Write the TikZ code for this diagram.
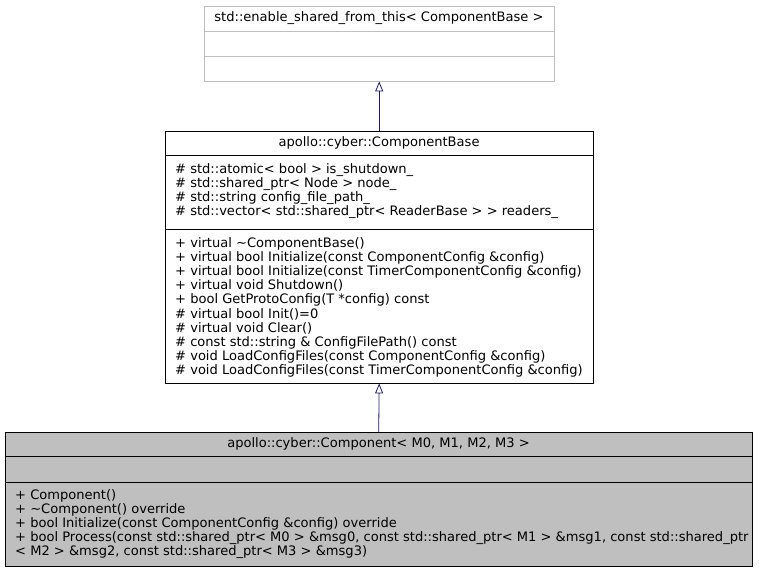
\documentclass[tikz,border=0pt]{standalone}
\usepackage{fontspec}
\setmainfont{DejaVu Sans}
\usetikzlibrary{arrows.meta}
\definecolor{edgeblue}{HTML}{191970}
\definecolor{boxgray}{HTML}{BFBFBF}
\tikzstyle{classbox} = [rectangle, draw=black, anchor=north west, inner sep=0pt]
\tikzstyle{classname} = [inner sep=0pt, font=\fontsize{13.05}{14}\selectfont]
\tikzstyle{members} = [anchor=north west, align=left, inner sep=0pt, font=\fontsize{13.05}{14.15}\selectfont]
\tikzstyle{inherit} = [draw=edgeblue, line width=0.8pt, -{Triangle[open, length=10pt, width=8pt]}]

\begin{document}
\begin{tikzpicture}[x=1pt, y=-1pt]
    \useasboundingbox (0,0) rectangle (759,573);

    % std::enable_shared_from_this
    \node (shared) [classbox, draw=boxgray, minimum width=350pt, minimum height=75pt] at (204,6) {};
    \draw [boxgray] (204,31) -- (554,31);
    \draw [boxgray] (204,56) -- (554,56);
    \node (sharedname) [classname] at (379,18.5) {std::enable\_shared\_from\_this< ComponentBase >};

    % apollo::cyber::ComponentBase
    \node (base) [classbox, minimum width=428pt, minimum height=252pt] at (165,131) {};
    \draw (165,155) -- (593,155);
    \draw (165,229) -- (593,229);
    \node (basename) [classname] at (379,143) {apollo::cyber::ComponentBase};
    \node (baseattr) [members] at (175,163.2) {\# std::atomic< bool > is\_shutdown\_\\
        \# std::shared\_ptr< Node > node\_\\
        \# std::string config\_file\_path\_\\
        \# std::vector< std::shared\_ptr< ReaderBase > > readers\_};
    \node (baseops) [members] at (175,237.2) {+ virtual \textasciitilde ComponentBase()\\
        + virtual bool Initialize(const ComponentConfig \&config)\\
        + virtual bool Initialize(const TimerComponentConfig \&config)\\
        + virtual void Shutdown()\\
        + bool GetProtoConfig(T *config) const\\
        \# virtual bool Init()=0\\
        \# virtual void Clear()\\
        \# const std::string \& ConfigFilePath() const\\
        \# void LoadConfigFiles(const ComponentConfig \&config)\\
        \# void LoadConfigFiles(const TimerComponentConfig \&config)};

    % apollo::cyber::Component
    \node (component) [classbox, fill=boxgray, minimum width=747pt, minimum height=134pt] at (5,432) {};
    \draw (5,456) -- (752,456);
    \draw (5,482) -- (752,482);
    \node (componentname) [classname] at (378.5,444) {apollo::cyber::Component< M0, M1, M2, M3 >};
    \node (componentops) [members] at (15,489.2) {+ Component()\\
        + \textasciitilde Component() override\\
        + bool Initialize(const ComponentConfig \&config) override\\
        + bool Process(const std::shared\_ptr< M0 > \&msg0, const std::shared\_ptr< M1 > \&msg1, const std::shared\_ptr\\
        < M2 > \&msg2, const std::shared\_ptr< M3 > \&msg3)};

    \draw [inherit] (base.north) -- (shared.south);
    \draw [inherit] (component.north) -- (base.south);
\end{tikzpicture}
\end{document}
